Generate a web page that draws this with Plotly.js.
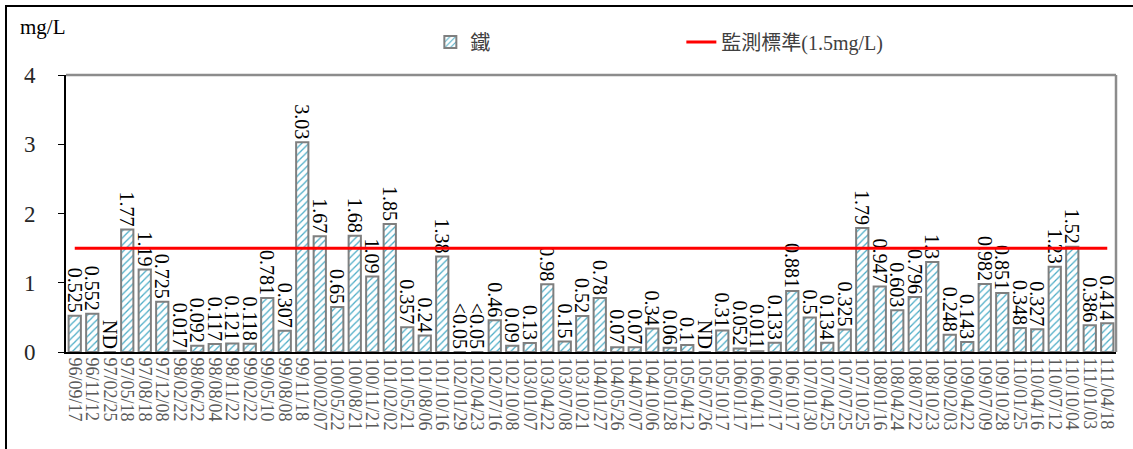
<!DOCTYPE html>
<html>
<head>
<meta charset="utf-8">
<script src="https://cdn.plot.ly/plotly-3.0.1.min.js"></script>
<style>
  body { margin: 0; background: #fff; }
  #frame { position: absolute; left: 5px; top: 5px; width: 1128px; height: 444px;
           border-top: 2px solid #000; border-left: 2px solid #000; }
  #graph { position: absolute; left: 0; top: 0; width: 1133px; height: 449px; }
</style>
</head>
<body>
<div id="frame"></div>
<div id="graph"></div>
<script>
// 採樣日期
const dates = [
  "96/09/17", "96/11/12", "97/02/25", "97/05/18", "97/08/18", "97/12/08", "98/02/22",
  "98/06/22", "98/08/04", "98/11/22", "99/02/22", "99/05/10", "99/08/08", "99/11/18",
  "100/02/07", "100/05/22", "100/08/21", "100/11/21", "101/02/02", "101/05/21", "101/08/06",
  "101/10/16", "102/01/29", "102/04/23", "102/07/16", "102/10/08", "103/01/07", "103/04/22",
  "103/07/08", "103/10/21", "104/01/27", "104/05/26", "104/07/07", "104/10/06", "105/01/28",
  "105/04/12", "105/07/26", "105/10/17", "106/01/17", "106/04/11", "106/07/17", "106/10/17",
  "107/01/30", "107/04/25", "107/07/25", "107/10/25", "108/01/16", "108/04/24", "108/07/22",
  "108/10/23", "109/02/03", "109/04/22", "109/07/09", "109/10/28", "110/01/25", "110/04/16",
  "110/07/12", "110/10/04", "111/01/03", "111/04/18"
];

// 鐵 (mg/L)，ND 與 <0.05 以 0 表示
const ironValues = [
  0.525, 0.552, 0, 1.77, 1.19, 0.725, 0.017,
  0.092, 0.117, 0.121, 0.118, 0.781, 0.307, 3.03,
  1.67, 0.65, 1.68, 1.09, 1.85, 0.357, 0.24,
  1.38, 0, 0, 0.46, 0.09, 0.13, 0.98,
  0.15, 0.52, 0.78, 0.07, 0.07, 0.34, 0.06,
  0.1, 0, 0.31, 0.052, 0.011, 0.133, 0.881,
  0.5, 0.134, 0.325, 1.79, 0.947, 0.603, 0.796,
  1.3, 0.248, 0.143, 0.982, 0.851, 0.348, 0.327,
  1.23, 1.52, 0.386, 0.414
];

// 柱上標示
const ironLabels = [
  "0.525", "0.552", "ND", "1.77", "1.19", "0.725", "0.017",
  "0.092", "0.117", "0.121", "0.118", "0.781", "0.307", "3.03",
  "1.67", "0.65", "1.68", "1.09", "1.85", "0.357", "0.24",
  "1.38", "<0.05", "<0.05", "0.46", "0.09", "0.13", "0.98",
  "0.15", "0.52", "0.78", "0.07", "0.07", "0.34", "0.06",
  "0.1", "ND", "0.31", "0.052", "0.011", "0.133", "0.881",
  "0.5", "0.134", "0.325", "1.79", "0.947", "0.603", "0.796",
  "1.3", "0.248", "0.143", "0.982", "0.851", "0.348", "0.327",
  "1.23", "1.52", "0.386", "0.414"
];

const standardValue = 1.5;
const yTicks = [0, 1, 2, 3, 4];

const fontFam = "Liberation Serif, 'Noto Sans CJK TC', serif";

const ironTrace = {
  type: 'bar',
  name: '鐵',
  x: dates,
  y: ironValues,
  text: ironLabels,
  textposition: 'outside',
  textangle: 90,
  constraintext: 'none',
  cliponaxis: false,
  textfont: { family: fontFam, size: 20, color: '#000' },
  marker: {
    color: 'white',
    line: { color: '#7f7f7f', width: 2 },
    pattern: { shape: '/', fgcolor: '#4bacc6', bgcolor: 'white', size: 5, solidity: 0.25 }
  },
  hoverinfo: 'x+y'
};

const standardTrace = {
  type: 'scatter',
  mode: 'lines',
  name: '監測標準(1.5mg/L)',
  x: dates,
  y: dates.map(() => standardValue),
  line: { color: '#ff0000', width: 3 }
};

const layout = {
  width: 1133,
  height: 449,
  margin: { l: 66, r: 17, t: 75, b: 97 },
  paper_bgcolor: 'rgba(0,0,0,0)',
  plot_bgcolor: 'white',
  font: { family: fontFam, size: 18, color: '#000' },
  bargap: 0.3,
  showlegend: true,
  legend: {
    orientation: 'h',
    x: 0.347, xanchor: 'left',
    yref: 'container', y: 1 - 42 / 449, yanchor: 'middle',
    entrywidth: 206,
    font: { family: fontFam, size: 20, color: '#404040' },
    bgcolor: 'rgba(0,0,0,0)'
  },
  xaxis: {
    type: 'category',
    tickmode: 'linear', dtick: 1,
    tickangle: 90,
    tickfont: { family: fontFam, size: 18, color: '#595959' },
    showline: true, linecolor: '#000', linewidth: 2,
    mirror: false,
    ticks: '',
    showgrid: false,
    automargin: false
  },
  yaxis: {
    range: [0, 4],
    tickvals: yTicks,
    ticks: 'outside', ticklen: 6, tickcolor: '#000',
    ticklabelstandoff: 18,
    tickfont: { family: fontFam, size: 23, color: '#262626' },
    showline: true, linecolor: '#000', linewidth: 2,
    showgrid: false,
    zeroline: false,
    automargin: false
  },
  shapes: [
    { type: 'line', xref: 'paper', yref: 'paper', x0: 0, x1: 1, y0: 1, y1: 1,
      line: { color: '#8c8c8c', width: 2.5 } },
    { type: 'line', xref: 'paper', yref: 'paper', x0: 1, x1: 1, y0: 0, y1: 1,
      line: { color: '#8c8c8c', width: 2.5 } }
  ],
  annotations: [
    { text: 'mg/L', xref: 'paper', yref: 'paper', x: -0.046, y: 1.173,
      xanchor: 'left', yanchor: 'middle', showarrow: false,
      font: { family: fontFam, size: 21, color: '#000' } }
  ]
};

Plotly.newPlot('graph', [ironTrace, standardTrace], layout, { displayModeBar: false, staticPlot: true });
</script>
</body>
</html>
